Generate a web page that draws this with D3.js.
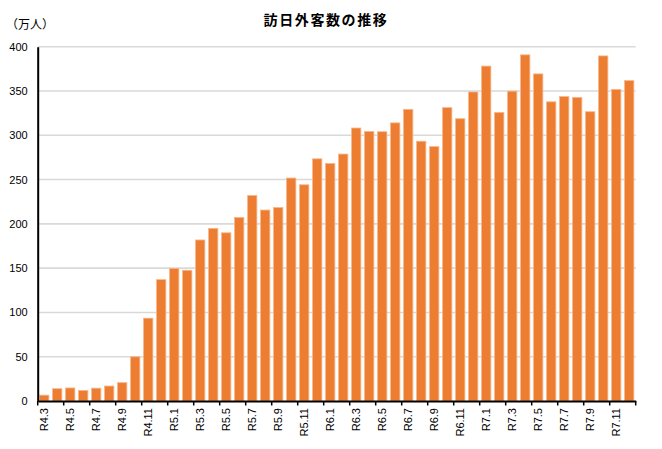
<!DOCTYPE html>
<html><head><meta charset="utf-8">
<script src="https://cdn.jsdelivr.net/npm/d3@7"></script>
<style>
html,body{margin:0;padding:0;background:#fff;}
svg{display:block;}
</style></head>
<body>
<svg id="chart" width="662" height="449"></svg>
<script>
const title = "訪日外客数の推移";
const unitLabel = "（万人）";
const categories = [
  "R4.3","R4.4","R4.5","R4.6","R4.7","R4.8","R4.9","R4.10","R4.11","R4.12",
  "R5.1","R5.2","R5.3","R5.4","R5.5","R5.6","R5.7","R5.8","R5.9","R5.10","R5.11","R5.12",
  "R6.1","R6.2","R6.3","R6.4","R6.5","R6.6","R6.7","R6.8","R6.9","R6.10","R6.11","R6.12",
  "R7.1","R7.2","R7.3","R7.4","R7.5","R7.6","R7.7","R7.8","R7.9","R7.10","R7.11","R7.12"
];
const visitors = [
  6.6,13.9,14.7,12.0,14.5,16.9,20.7,49.9,93.5,137.0,
  149.7,147.6,181.8,194.9,189.9,207.3,232.0,215.6,218.4,251.7,244.1,273.4,
  268.2,278.8,308.2,304.3,304.0,314.0,329.3,293.3,287.2,331.2,318.7,348.9,
  378.1,325.8,349.8,390.8,369.3,337.8,343.7,342.8,326.6,389.6,351.8,361.7
];
const yTicks = [0,50,100,150,200,250,300,350,400];
const xTickLabels = categories.filter((d,i)=>i%2===0);

(function(){
const svg = d3.select("#chart");
const mLeft = 37.7, mRight = 635.7, mTop = 46.7, mBottom = 401;

const x = d3.scaleBand().domain(categories).range([mLeft,mRight]).paddingInner(0.28).paddingOuter(0.14);
const xb = d3.scaleBand().domain(categories).range([mLeft,mRight]);
const y = d3.scaleLinear().domain([0,400]).range([mBottom,mTop]);

// gridlines
svg.append("g").selectAll("line").data(yTicks.filter(d=>d>0)).join("line")
  .attr("x1",mLeft).attr("x2",mRight)
  .attr("y1",d=>y(d)).attr("y2",d=>y(d))
  .attr("stroke","#d9d9d9").attr("stroke-width",1.6);

// bars
svg.append("g").selectAll("rect").data(visitors).join("rect")
  .attr("x",(d,i)=>x(categories[i]))
  .attr("width",x.bandwidth())
  .attr("y",d=>y(d))
  .attr("height",d=>mBottom-y(d))
  .attr("fill","#ED7D31")
  .attr("stroke","#F6B78E").attr("stroke-width",0.8);

// y axis
const yAxis = d3.axisLeft(y).tickValues(yTicks).tickSize(0).tickPadding(10);
const yg = svg.append("g").attr("transform",`translate(${mLeft},0)`).call(yAxis);
yg.select(".domain").attr("stroke","#000").attr("stroke-width",2);
yg.selectAll("text").attr("font-family","Liberation Sans, Arial, sans-serif").attr("font-size",11).attr("fill","#000");

// x axis
const xAxis = d3.axisBottom(xb).tickValues(xTickLabels).tickSize(0).tickPadding(0);
const xg = svg.append("g").attr("transform",`translate(0,${mBottom})`).call(xAxis);
xg.select(".domain").attr("stroke","#000").attr("stroke-width",2);
xg.selectAll(".tick text")
  .attr("font-family","Liberation Sans, Arial, sans-serif").attr("font-size",11).attr("fill","#000")
  .attr("transform","rotate(-90)")
  .attr("text-anchor","end")
  .attr("x",-7).attr("y",0).attr("dy","0.35em");
// tick marks at boundaries every two categories
const boundaries = d3.range(0, categories.length+1, 2).map(i => mLeft + i*xb.step());
svg.append("g").selectAll("line").data(boundaries).join("line")
  .attr("x1",d=>d).attr("x2",d=>d)
  .attr("y1",mBottom).attr("y2",mBottom+4.5)
  .attr("stroke","#000").attr("stroke-width",1.5);

// title
svg.append("text").attr("x",326).attr("y",25)
  .attr("text-anchor","middle")
  .attr("font-family","Noto Sans CJK JP, sans-serif").attr("font-weight","bold")
  .attr("font-size",14).attr("letter-spacing","1.6px")
  .attr("fill","#000").text(title);

// unit label
svg.append("text").attr("x",6).attr("y",29)
  .attr("font-family","Noto Sans CJK JP, sans-serif")
  .attr("font-size",12).attr("fill","#000").text(unitLabel);
})();
</script>
</body></html>
